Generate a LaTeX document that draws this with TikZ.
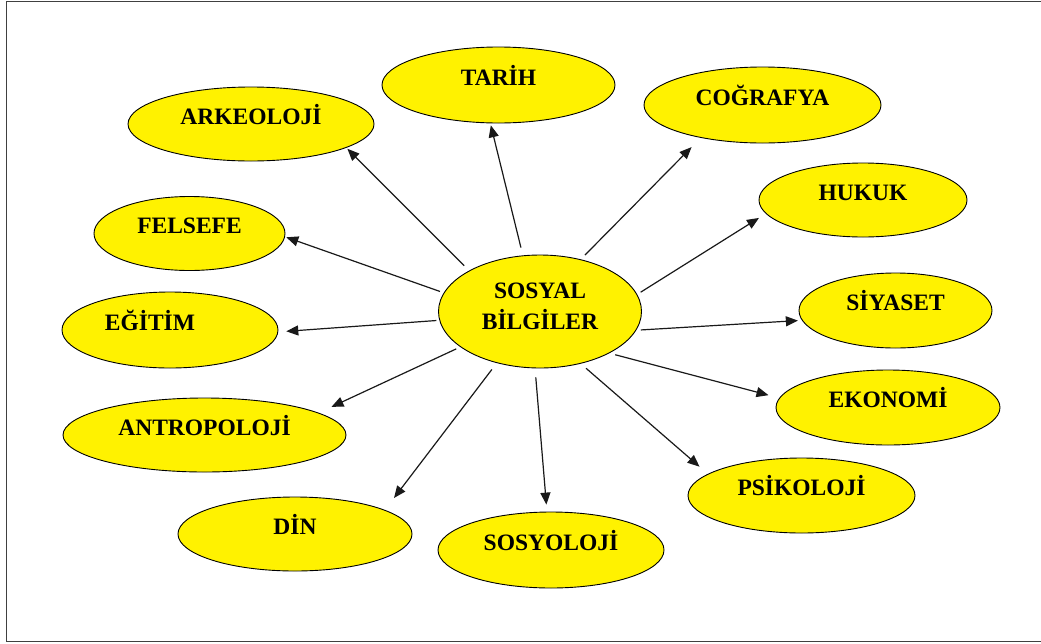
\documentclass[tikz,border=0pt]{standalone}
\usepackage{fontspec}
\setmainfont{Liberation Serif}
\usetikzlibrary{shapes.geometric,arrows.meta}
\newcommand\bubtext[2][0pt]{\makebox[0pt]{\kern#1\kern#1\raisebox{0pt}[0pt][0pt]{#2}}}
\begin{document}
\begin{tikzpicture}[x=1pt,y=-1pt,
  bub/.style={ellipse, draw=black, line width=0.9pt, fill=yellow, inner sep=0pt,
    font=\bfseries\fontsize{23.5}{31}\selectfont},
  arr/.style={-{Triangle[length=12pt,width=10pt]}, line width=1.2pt, draw=black!90},
  frame/.style={draw=black!75, line width=1.6pt}]
\useasboundingbox (0,0) rectangle (1041,643);
\draw[frame] (6.5,1.5) rectangle (1042,641.3);

\node[bub, minimum width=203pt, minimum height=113pt] (c) at (540,311.5)
  {\makebox[0pt]{\raisebox{-18.3pt}[0pt][0pt]{\begin{tabular}[b]{@{}c@{}}SOSYAL\\BİLGİLER\end{tabular}}}};

\node[bub, minimum width=246pt, minimum height=74pt] (ark) at (251,124) {\bubtext{ARKEOLOJİ}};
\node[bub, minimum width=233pt, minimum height=76pt] (tar) at (498.5,85) {\bubtext{TARİH}};
\node[bub, minimum width=237pt, minimum height=76pt] (cog) at (762.5,105) {\bubtext{COĞRAFYA}};
\node[bub, minimum width=208pt, minimum height=74pt] (huk) at (863,200) {\bubtext{HUKUK}};
\node[bub, minimum width=193pt, minimum height=75pt] (siy) at (895.5,310.5) {\bubtext{SİYASET}};
\node[bub, minimum width=224pt, minimum height=75pt] (eko) at (888,407.5) {\bubtext{EKONOMİ}};
\node[bub, minimum width=227pt, minimum height=75pt] (psi) at (801.5,495.5) {\bubtext{PSİKOLOJİ}};
\node[bub, minimum width=226pt, minimum height=76pt] (sos) at (551,550) {\bubtext{SOSYOLOJİ}};
\node[bub, minimum width=234pt, minimum height=74pt] (din) at (295,534) {\bubtext{DİN}};
\node[bub, minimum width=283pt, minimum height=74pt] (ant) at (204.5,435) {\bubtext{ANTROPOLOJİ}};
\node[bub, minimum width=216pt, minimum height=76pt] (egi) at (170,330) {\bubtext[-20pt]{EĞİTİM}};
\node[bub, minimum width=191pt, minimum height=74pt] (fel) at (189.5,233.5) {\bubtext{FELSEFE}};

\draw[arr, shorten <=7pt, shorten >=1.4pt] (c.150.9) -- (ark.-14);
\draw[arr, shorten <=8pt, shorten >=2pt] (c.107.5) -- (tar.-102);
\draw[arr, shorten <=6pt, shorten >=13pt] (c.52.1) -- (cog.-152.1);
\draw[arr, shorten <=4pt, shorten >=8pt] (c.10.5) -- (huk.188.1);
\draw[arr, shorten <=4.5pt, shorten >=4pt] (c.-11.6) -- (siy.186.8);
\draw[arr, shorten <=6pt, shorten >=11pt] (c.-31.9) -- (eko.175);
\draw[arr, shorten <=7pt, shorten >=11pt] (c.-52.6) -- (psi.167.6);
\draw[arr, shorten <=9pt, shorten >=7pt] (c.-95.2) -- (sos.96.3);
\draw[arr, shorten <=8pt, shorten >=15pt] (c.230.1) -- (din.15.9);
\draw[arr, shorten <=4.5pt, shorten >=14pt] (c.204.3) -- (ant.11);
\draw[arr, shorten <=3pt, shorten >=8pt] (c.185.8) -- (egi.-1);
\draw[arr, shorten <=4pt, shorten >=1.3pt] (c.169.5) -- (fel.-2.6);
\end{tikzpicture}
\end{document}
